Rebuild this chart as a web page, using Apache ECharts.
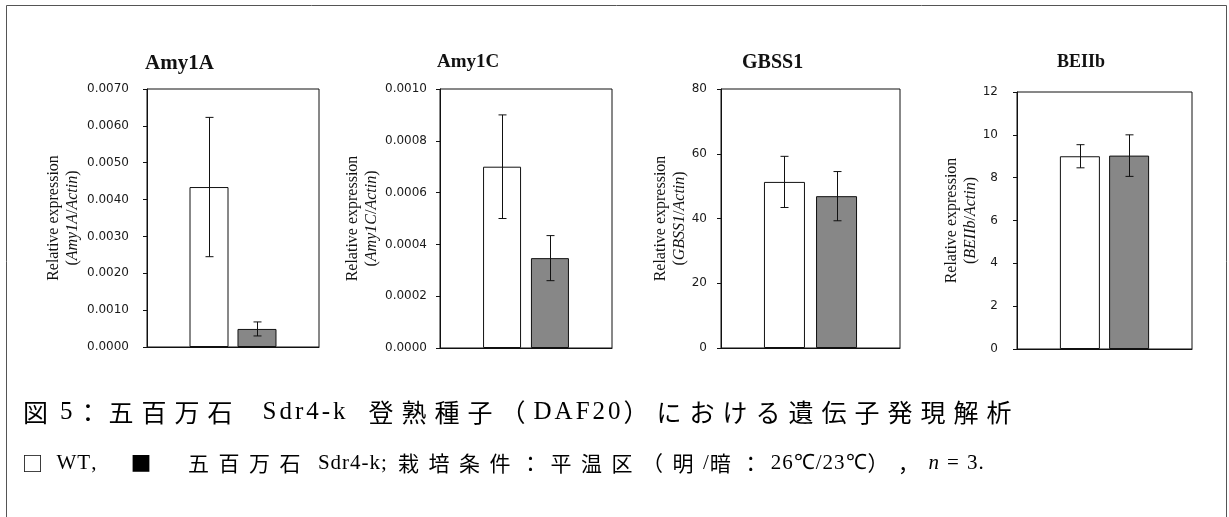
<!DOCTYPE html>
<html><head><meta charset="utf-8">
<script src="https://cdn.jsdelivr.net/npm/echarts@6/dist/echarts.min.js"></script>
<style>html,body{margin:0;padding:0;background:#fff}#c{width:1229px;height:517px}</style>
</head><body><div id="c"></div>
<script>
// ---- data ----
const genes = ['Amy1A', 'Amy1C', 'GBSS1', 'BEIIb'];
const seriesNames = ['WT', '五百万石 Sdr4-k'];
const wtMean = [0.00434, 0.00070, 51.3, 9.0];
const wtErr = [0.00189, 0.00020, 7.9, 0.54];
const sdrMean = [0.00049, 0.000347, 46.9, 9.03];
const sdrErr = [0.00019, 0.000087, 7.6, 0.97];
const yMax = [0.007, 0.001, 80, 12];
const yStep = [0.001, 0.0002, 20, 2];
const yDecimals = [4, 4, 0, 0];
const yNameLine1 = 'Relative expression';
const yNameRatio = ['Amy1A', 'Amy1C', 'GBSS1', 'BEIIb'];
const yNameRef = 'Actin';
const captionLine1 = '図 5：五百万石 Sdr4-k 登熟種子（DAF20）における遺伝子発現解析';
const captionLine2 = '□ WT, ■ 五百万石 Sdr4-k; 栽培条件：平温区（明/暗：26℃/23℃），n = 3.';

// ---- layout ----
const L = [
  {left: 147, top: 89, width: 172, height: 258, barW: 39, gap: 0.23, titleX: 145, titleSize: 21, nameGap: 65, margin: 18},
  {left: 440, top: 89, width: 172, height: 259, barW: 38, gap: 0.26, titleX: 437, titleSize: 19, nameGap: 59, margin: 13},
  {left: 721, top: 89, width: 179, height: 259, barW: 41, gap: 0.27, titleX: 742, titleSize: 20, nameGap: 32, margin: 14},
  {left: 1017, top: 92, width: 175, height: 257, barW: 40, gap: 0.23, titleX: 1057, titleSize: 18, nameGap: 37, margin: 19}
];
const CAP1 = {x: 23, y: 412, f: 25, pitch: 33, lf: 25, lpad: 3, spaces: [4, 22, 20]};
const CAP2 = {x: 22, y: 463, f: 21, pitch: 30.5, lf: 21, lpad: 1, spaces: [4, 33, 27, 8, 10, 7, 7]};
const INK = '#111';
const GRAY = '#878787';

const chart = echarts.init(document.getElementById('c'), null, {renderer: 'canvas'});

const grid = [], xAxis = [], yAxis = [], title = [], series = [];
genes.forEach((g, i) => {
  const l = L[i];
  grid.push({left: l.left, top: l.top, width: l.width, height: l.height, show: true,
    borderColor: INK, borderWidth: 1, backgroundColor: 'transparent'});
  title.push({text: g, left: l.titleX, top: 53, padding: 0,
    textStyle: {fontFamily: 'Liberation Serif', fontWeight: 'bold', fontSize: l.titleSize, color: INK}});
  xAxis.push({type: 'category', gridIndex: i, data: [g],
    axisLine: {lineStyle: {color: INK, width: 1}}, axisTick: {show: false}, axisLabel: {show: false}});
  yAxis.push({type: 'value', gridIndex: i, min: 0, max: yMax[i], interval: yStep[i],
    name: '{n|' + yNameLine1 + '}\n{n|(}{i|' + yNameRatio[i] + '}{n|/}{i|' + yNameRef + '}{n|)}',
    nameLocation: 'middle', nameGap: l.nameGap, nameRotate: 90,
    nameTextStyle: {rich: {
      n: {fontFamily: 'Liberation Serif', fontSize: 16, lineHeight: 19, color: INK},
      i: {fontFamily: 'Liberation Serif', fontStyle: 'italic', fontSize: 16, lineHeight: 19, color: INK}
    }},
    axisLine: {show: true, lineStyle: {color: INK, width: 1}},
    axisTick: {show: true, length: 4, lineStyle: {color: INK}},
    splitLine: {show: false},
    axisLabel: {margin: l.margin, fontFamily: 'DejaVu Sans', fontSize: 12, color: '#1a1a1a',
      formatter: v => Number(v).toFixed(yDecimals[i])}
  });
  series.push({type: 'bar', name: seriesNames[0], xAxisIndex: i, yAxisIndex: i, data: [wtMean[i]],
    barWidth: l.barW, barGap: Math.round(l.gap * 100) + '%',
    itemStyle: {color: '#fff', borderColor: INK, borderWidth: 1}, z: 2});
  series.push({type: 'bar', name: seriesNames[1], xAxisIndex: i, yAxisIndex: i, data: [sdrMean[i]],
    barWidth: l.barW, barGap: Math.round(l.gap * 100) + '%',
    itemStyle: {color: GRAY, borderColor: INK, borderWidth: 1}, z: 2});
  series.push({type: 'custom', xAxisIndex: i, yAxisIndex: i, z: 5,
    data: [[0, wtMean[i], wtErr[i], -1], [0, sdrMean[i], sdrErr[i], 1]],
    renderItem: (params, api) => {
      const m = api.value(1), e = api.value(2), side = api.value(3);
      const c = api.coord([api.value(0), m]);
      const x = Math.round(c[0] + side * l.barW * (1 + l.gap) / 2) + 0.5;
      const yt = api.coord([0, m + e])[1];
      const yb = api.coord([0, m - e])[1];
      const st = {stroke: INK, lineWidth: 1};
      return {type: 'group', children: [
        {type: 'line', shape: {x1: x, y1: yt, x2: x, y2: yb}, style: st},
        {type: 'line', shape: {x1: x - 4, y1: yt, x2: x + 4, y2: yt}, style: st},
        {type: 'line', shape: {x1: x - 4, y1: yb, x2: x + 4, y2: yb}, style: st}
      ]};
    }
  });
});

// caption as rich text, one fragment per character so the spacing can follow the print
function richCaption(str, cfg) {
  let out = '';
  let sp = 0;
  const chars = Array.from(str);
  chars.forEach((ch, k) => {
    let cls;
    if (ch === ' ') { cls = 's' + sp; sp++; }
    else if (ch === '□') cls = 'box';
    else if (ch === '■') cls = 'fill';
    else if (ch === 'n' && chars[k + 1] === ' ' && (chars[k - 1] === '，' || chars[k - 1] === ' ')) cls = 'li';
    else if (ch.codePointAt(0) >= 0x2E80) cls = 'j';
    else cls = 'l';
    out += '{' + cls + '|' + ch + '}';
  });
  return out;
}
function richStyles(cfg) {
  const r = {
    j: {fontFamily: 'Noto Sans CJK JP', fontSize: cfg.f, width: cfg.pitch, color: INK},
    box: {fontFamily: 'Noto Sans CJK JP', fontSize: cfg.f, width: cfg.pitch, color: '#333'},
    fill: {fontFamily: 'Noto Sans CJK JP', fontSize: cfg.f, width: cfg.pitch, color: '#6e6e6e'},
    l: {fontFamily: 'Liberation Serif', fontSize: cfg.lf, padding: [0, cfg.lpad, 0, 0], color: INK},
    li: {fontFamily: 'Liberation Serif', fontStyle: 'italic', fontSize: cfg.lf, padding: [0, cfg.lpad, 0, 0], color: INK}
  };
  cfg.spaces.forEach((w, k) => { r['s' + k] = {fontFamily: 'Liberation Serif', fontSize: cfg.lf, width: w}; });
  return r;
}

const option = {
  backgroundColor: '#fff',
  animation: false,
  title, grid, xAxis, yAxis, series,
  graphic: [
    {type: 'rect', silent: true, shape: {x: 6.5, y: 5.5, width: 1220, height: 600},
      style: {fill: 'none', stroke: '#555', lineWidth: 1}},
    {type: 'text', x: CAP1.x, y: CAP1.y, silent: true,
      style: {text: richCaption(captionLine1, CAP1), verticalAlign: 'middle', rich: richStyles(CAP1)}},
    {type: 'text', x: CAP2.x, y: CAP2.y, silent: true,
      style: {text: richCaption(captionLine2, CAP2), verticalAlign: 'middle', rich: richStyles(CAP2)}}
  ]
};
chart.setOption(option);
</script></body></html>
